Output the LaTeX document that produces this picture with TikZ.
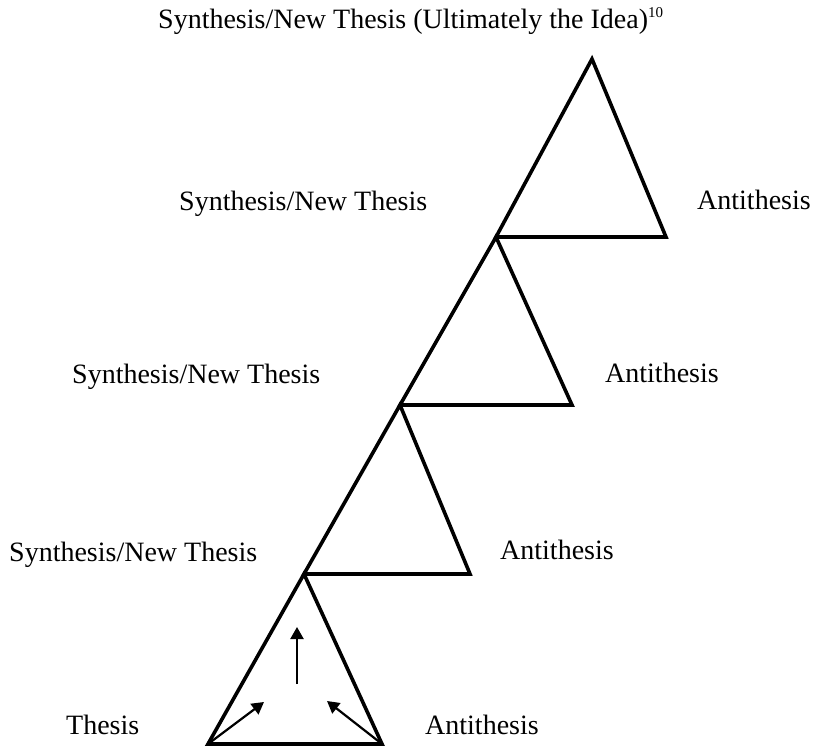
\documentclass[tikz,border=0pt]{standalone}
\usepackage{fontspec}
\setmainfont{Liberation Serif}
\usetikzlibrary{arrows.meta}

\tikzset{
  label/.style={anchor=base west,inner sep=0pt,font=\fontsize{28}{34}\selectfont},
  side/.style={line width=3.6pt,line join=miter},
  move/.style={line width=2.2pt,-{Triangle[width=13pt,length=12pt]}}
}

\begin{document}
\begin{tikzpicture}[x=1pt,y=-1pt]
\useasboundingbox (0,0) rectangle (815,749);
% corners of the four triangles
\coordinate (t1l) at (208,744);
\coordinate (t1r) at (382,744);
\coordinate (t2l) at (304,574);
\coordinate (t2r) at (470,574);
\coordinate (t3l) at (400,405);
\coordinate (t3r) at (572,405);
\coordinate (t4l) at (496,237);
\coordinate (t4r) at (666,237);
\coordinate (top) at (592,59);

\draw[side] (t1l) -- (t1r) -- (t2l) -- cycle;
\draw[side] (t2l) -- (t2r) -- (t3l) -- cycle;
\draw[side] (t3l) -- (t3r) -- (t4l) -- cycle;
\draw[side] (t4l) -- (t4r) -- (top) -- cycle;

% arrows in the bottom triangle
\coordinate (upfoot) at (297,684);
\coordinate (uphead) at (297,627);
\coordinate (lefthead) at (264,702);
\coordinate (righthead) at (327,701);
\draw[move] (upfoot) -- (uphead);
\draw[move] (t1l) -- (lefthead);
\draw[move] (t1r) -- (righthead);

\node[label] (idea) at (158,29) {Synthesis/New Thesis (Ultimately the Idea)\raisebox{11pt}{\fontsize{15}{15}\selectfont 10}};
\node[label] (syn3) at (179,211) {Synthesis/New Thesis};
\node[label] (anti4) at (697,210) {Antithesis};
\node[label] (syn2) at (72,383) {Synthesis/New Thesis};
\node[label] (anti3) at (605,382) {Antithesis};
\node[label] (syn1) at (9,561) {Synthesis/New Thesis};
\node[label] (anti2) at (500,559) {Antithesis};
\node[label] (thesis) at (66,734) {Thesis};
\node[label] (anti1) at (425,734) {Antithesis};
\end{tikzpicture}
\end{document}
